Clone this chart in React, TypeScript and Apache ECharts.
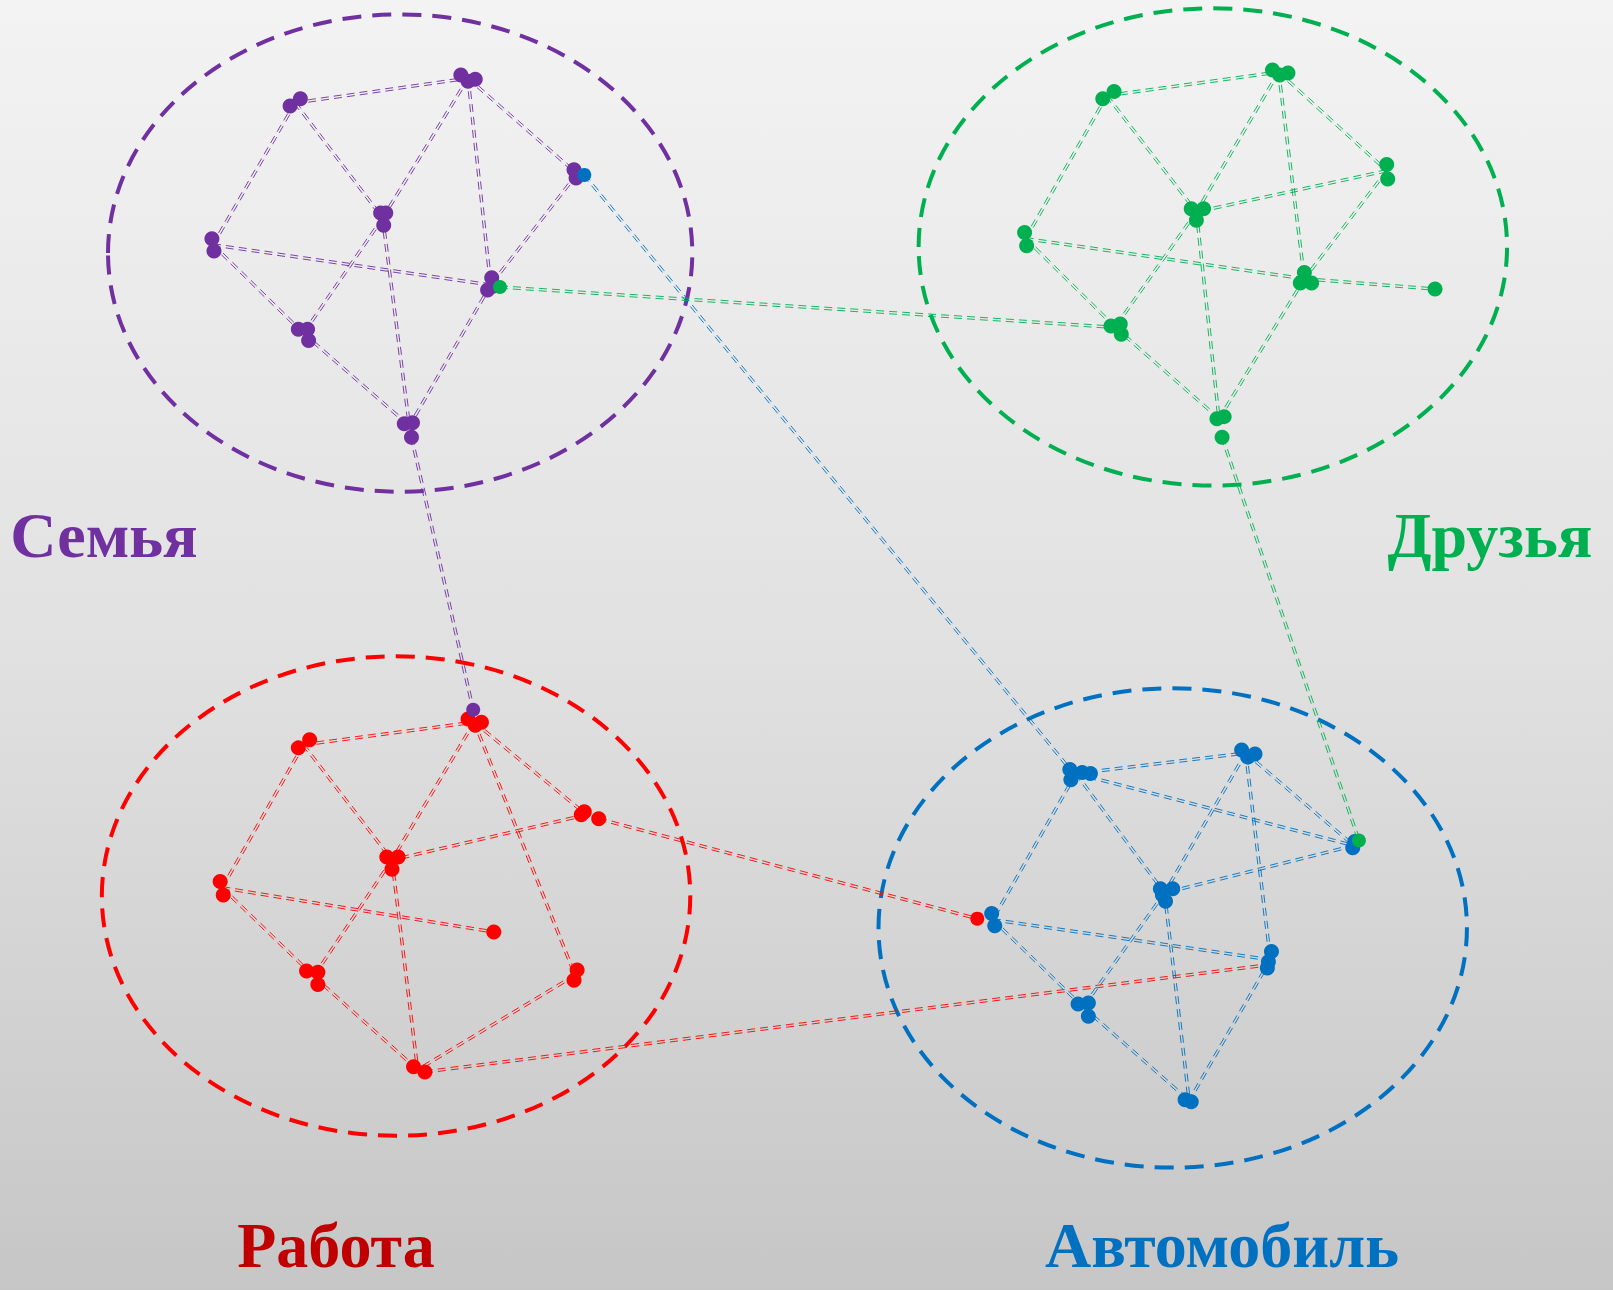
import React, { useEffect, useRef } from "react";
import * as echarts from "echarts";

// Coordinate space of the reference
const SPACE_W = 1568;
const SPACE_H = 1254;

const groupNames = ["Семья", "Друзья", "Работа", "Автомобиль"];
const groupColors = ["#7030A0", "#00B050", "#FF0000", "#0070C0"];
const labelColors = ["#7030A0", "#00B050", "#C00000", "#0070C0"];

// ellipses: cx, cy, rx, ry, group
const ellipses = [
  [389, 246, 284, 232, 0],
  [1179, 240, 286, 232, 1],
  [385, 871, 286, 233, 2],
  [1140, 902, 286, 233, 3],
];

// ---- Семья (family)
const familyNodes = [
  [287, 100], [455, 76], [561, 169], [372, 212], [207, 238], [477, 277], [295, 324], [398, 414],
];
const familyDots = [
  [282, 103], [292, 96], [448, 73], [462, 77], [455, 79], [558, 165], [560, 173],
  [370, 207], [375, 207], [373, 219], [206, 232], [208, 244], [474, 282], [478, 270], [480, 278],
  [290, 320], [299, 320], [300, 331], [393, 412], [401, 411], [400, 425],
];
const familyEdges = [
  [0, 1], [0, 3], [0, 4], [1, 3], [1, 5], [1, 2], [2, 5], [3, 6], [3, 7], [4, 5], [4, 6], [6, 7], [5, 7],
];

// ---- Друзья (friends)
const friendsNodes = [
  [1076, 93], [1243, 70], [1348, 166], [1163, 206], [997, 232], [1268, 271], [1395, 281], [1084, 318], [1185, 407], [1188, 425],
];
const friendsDots = [
  [1072, 96], [1083, 89], [1237, 68], [1252, 71], [1244, 73], [1348, 160], [1349, 174],
  [1158, 203], [1170, 203], [1163, 214], [996, 226], [998, 239], [1268, 265], [1264, 275], [1275, 275],
  [1395, 281], [1080, 317], [1089, 315], [1090, 325], [1183, 407], [1190, 405], [1188, 425],
];
const friendsEdges = [
  [0, 1], [0, 3], [0, 4], [1, 3], [1, 5], [1, 2], [2, 3], [2, 5], [3, 7], [3, 8], [4, 5], [4, 7], [5, 6], [5, 8], [7, 8],
];

// ---- Работа (work)
const workNodes = [
  [295, 724], [461, 702], [570, 792], [381, 836], [216, 863], [480, 906], [305, 949], [559, 948], [406, 1040],
];
const workDots = [
  [290, 727], [301, 719], [455, 699], [468, 702], [462, 705], [565, 792], [568, 789], [582, 796],
  [376, 833], [387, 833], [381, 845], [214, 857], [217, 870], [480, 906],
  [298, 944], [309, 945], [309, 957], [561, 943], [558, 953], [402, 1037], [413, 1042],
];
const workEdges = [
  [0, 1], [0, 3], [0, 4], [1, 3], [1, 2], [1, 7], [2, 3], [3, 6], [3, 8], [4, 5], [4, 6], [6, 8], [7, 8],
];

// ---- Автомобиль (car)
const autoNodes = [
  [1046, 752], [1211, 732], [1316, 822], [1132, 868], [965, 894], [1235, 933], [1053, 979], [1156, 1070],
];
const autoDots = [
  [1040, 748], [1052, 751], [1060, 752], [1041, 758], [1207, 729], [1220, 733], [1213, 736],
  [1315, 824], [1317, 818], [1128, 864], [1140, 864], [1133, 876], [1130, 870],
  [964, 888], [967, 900], [1236, 925], [1232, 941], [1233, 935],
  [1048, 976], [1058, 975], [1058, 988], [1152, 1069], [1158, 1071],
];
const autoEdges = [
  [0, 1], [0, 2], [0, 3], [0, 4], [1, 3], [1, 2], [1, 5], [2, 3], [3, 6], [3, 7], [4, 5], [4, 6], [6, 7], [5, 7],
];

// links between circles: x1, y1, x2, y2, group(colour)
const crossLinks = [
  [400, 425, 460, 690, 0],
  [568, 170, 1042, 750, 3],
  [486, 279, 1080, 318, 1],
  [1188, 425, 1321, 817, 1],
  [582, 796, 950, 893, 2],
  [413, 1042, 1232, 938, 2],
];
// dots of one colour sitting inside another circle: x, y, group
const foreignDots = [
  [568, 170, 3],
  [486, 279, 1],
  [460, 690, 0],
  [1321, 817, 1],
  [950, 893, 2],
];

const clusters = [
  { nodes: familyNodes, dots: familyDots, edges: familyEdges },
  { nodes: friendsNodes, dots: friendsDots, edges: friendsEdges },
  { nodes: workNodes, dots: workDots, edges: workEdges },
  { nodes: autoNodes, dots: autoDots, edges: autoEdges },
];

// label centres in page pixels
const labelPos = [
  [104, 535],
  [1490, 535],
  [336, 1245],
  [1222, 1245],
];

export default function App() {
  const ref = useRef<HTMLDivElement>(null);
  useEffect(() => {
    document.body.style.margin = "0";
    const chart = echarts.init(ref.current!, undefined, { renderer: "svg" });

    const edgeData: number[][] = [];
    clusters.forEach((c, gi) => {
      c.edges.forEach(([a, b]) => {
        edgeData.push([c.nodes[a][0], c.nodes[a][1], c.nodes[b][0], c.nodes[b][1], gi]);
      });
    });
    crossLinks.forEach((l) => edgeData.push(l));

    const edgeSeries = {
      type: "custom",
      coordinateSystem: "cartesian2d",
      z: 2,
      silent: true,
      encode: { x: [0, 2], y: [1, 3] },
      data: edgeData,
      renderItem: (params: any, api: any) => {
        const p1 = api.coord([api.value(0), api.value(1)]);
        const p2 = api.coord([api.value(2), api.value(3)]);
        const dx = p2[0] - p1[0];
        const dy = p2[1] - p1[1];
        const len = Math.hypot(dx, dy) || 1;
        const nx = (-dy / len) * 1.2;
        const ny = (dx / len) * 1.2;
        const color = groupColors[api.value(4)];
        const style = { stroke: color, lineWidth: 1, lineDash: [8, 5], fill: null, opacity: 0.9 };
        return {
          type: "group",
          children: [
            { type: "line", shape: { x1: p1[0] + nx, y1: p1[1] + ny, x2: p2[0] + nx, y2: p2[1] + ny }, style },
            { type: "line", shape: { x1: p1[0] - nx, y1: p1[1] - ny, x2: p2[0] - nx, y2: p2[1] - ny }, style },
          ],
        };
      },
    };

    const ellipseSeries = {
      type: "custom",
      coordinateSystem: "cartesian2d",
      z: 1,
      silent: true,
      encode: { x: 0, y: 1 },
      data: ellipses,
      renderItem: (params: any, api: any) => {
        const c = api.coord([api.value(0), api.value(1)]);
        const e = api.coord([api.value(0) + api.value(2), api.value(1) + api.value(3)]);
        const rx = Math.abs(e[0] - c[0]);
        const ry = Math.abs(e[1] - c[1]);
        return {
          type: "ellipse",
          shape: { cx: c[0], cy: c[1], rx, ry },
          style: { stroke: groupColors[api.value(4)], lineWidth: 4, lineDash: [19, 11], fill: null },
        };
      },
    };

    const dotSeries = clusters.map((c, gi) => ({
      type: "scatter",
      name: groupNames[gi],
      z: 4,
      symbol: "circle",
      symbolSize: 15,
      itemStyle: { color: groupColors[gi], opacity: 1 },
      silent: true,
      data: c.dots,
    }));

    const foreignSeries = groupColors.map((col, gi) => ({
      type: "scatter",
      z: 5,
      symbol: "circle",
      symbolSize: 14,
      itemStyle: { color: col, opacity: 1 },
      silent: true,
      data: foreignDots.filter((d) => d[2] === gi).map((d) => [d[0], d[1]]),
    }));

    chart.setOption({
      animation: false,
      backgroundColor: {
        type: "linear",
        x: 0,
        y: 0,
        x2: 0,
        y2: 1,
        colorStops: [
          { offset: 0, color: "#f3f3f3" },
          { offset: 0.5, color: "#e1e1e1" },
          { offset: 1, color: "#c6c6c6" },
        ],
      },
      grid: { left: 0, right: 0, top: 0, bottom: 0 },
      xAxis: { type: "value", min: 0, max: SPACE_W, show: false },
      yAxis: { type: "value", min: 0, max: SPACE_H, inverse: true, show: false },
      graphic: groupNames.map((n, i) => ({
        type: "text",
        x: labelPos[i][0],
        y: labelPos[i][1],
        z: 10,
        style: {
          text: n,
          fill: labelColors[i],
          font: "bold 64px 'Liberation Serif', 'Times New Roman', serif",
          textAlign: "center",
          textVerticalAlign: "middle",
        },
      })),
      series: [ellipseSeries, edgeSeries, ...dotSeries, ...foreignSeries],
    });
    return () => chart.dispose();
  }, []);
  return <div ref={ref} style={{ width: 1613, height: 1290 }} />;
}
